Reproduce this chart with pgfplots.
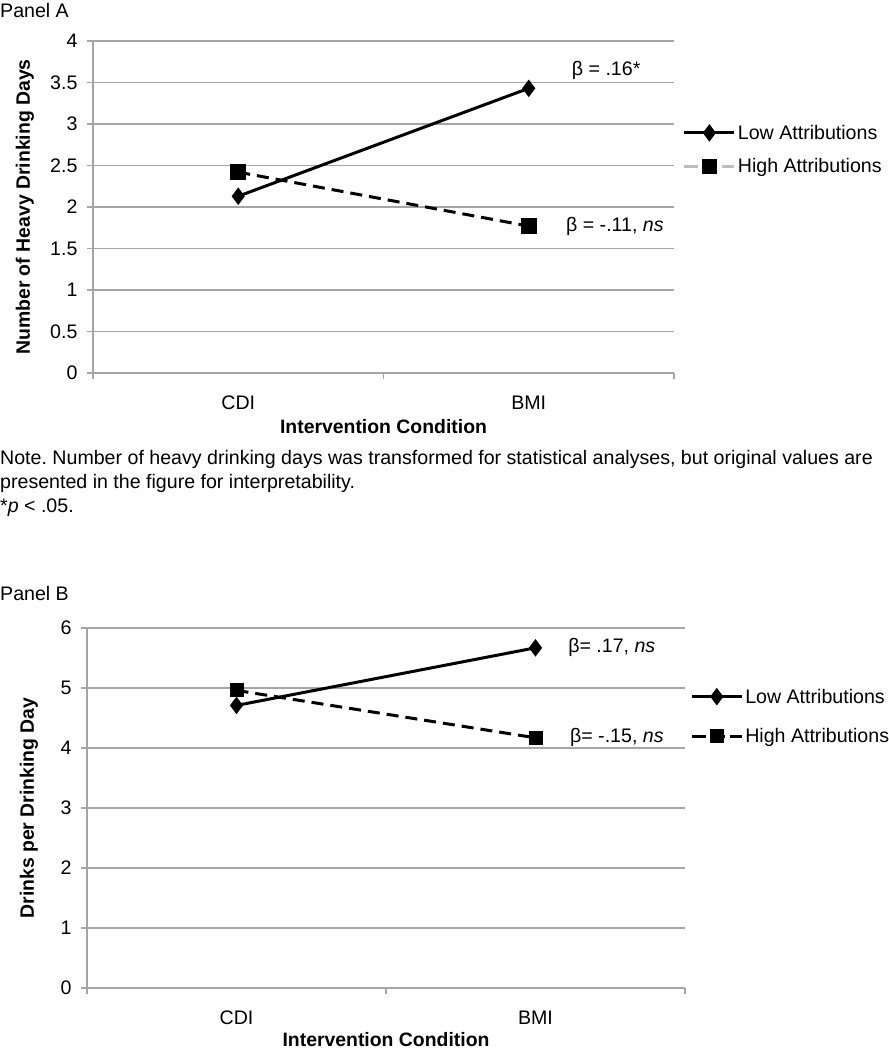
\documentclass[border=0pt]{standalone}
\usepackage{pgfplots}
\pgfplotsset{compat=1.18}
\usepackage{fontspec}
\setmainfont{Liberation Sans}
\frenchspacing
\definecolor{gridgray}{RGB}{165,165,165}
\definecolor{leggray}{RGB}{190,190,190}

\newcommand{\fs}{\fontsize{19.6}{23}\selectfont}
\newcommand{\fl}{\fontsize{19.4}{23}\selectfont\bfseries}

\pgfplotsset{
  mystyle/.style={
    scale only axis, clip=false,
    axis x line=bottom, axis y line=left,
    axis line style={-, gridgray, line width=1.4pt},
    ymajorgrids, grid style={gridgray, line width=1.4pt},
    enlargelimits=false,
    xmin=0, xmax=2,
    xtick={0.5,1.5}, xticklabels={CDI,BMI},
    major x tick style={draw=none},
    extra x ticks={0,1,2}, extra x tick labels={},
    extra x tick style={major x tick style={draw=gridgray, line width=1.4pt}, grid=none},
    tick align=outside, major tick length=6pt,
    ytick style={gridgray, line width=1.4pt},
    /pgf/number format/assume math mode=true,
    ticklabel style={font=\fs},
    yticklabel style={xshift=-6pt},
    xticklabel style={anchor=base, yshift=-30pt},
    label style={font=\fl},
    legend cell align=left,
    legend image code/.code={
      \draw[##1, mark repeat=2, mark phase=2] plot coordinates {(0pt,0pt) (25pt,0pt) (50pt,0pt)};
    },
  },
  lowline/.style={black, line width=3pt, mark=diamond*, mark size=6.3pt, mark options={solid, fill=black}},
  highline/.style={black, line width=3pt, dash pattern=on 12pt off 7pt, mark=square*, mark options={solid, fill=black}},
}

\begin{document}
\begin{tikzpicture}
\path[use as bounding box] (0pt,0pt) rectangle (889pt,-1050pt);

\node[anchor=base west, inner sep=0pt, font=\fs] at (0pt,-17pt) {Panel A};

% ---------------- Panel A
\begin{axis}[mystyle,
  at={(93pt,-373pt)}, anchor=south west,
  width=581pt, height=332pt,
  ymin=0, ymax=4, ytick={0,0.5,...,4},
  yticklabels={0,0.5,1,1.5,2,2.5,3,3.5,4},
  xlabel={Intervention Condition},
  ylabel={Number of Heavy Drinking Days},
  xlabel style={at={(axis description cs:0.5,0)}, anchor=center, yshift=-54pt},
  ylabel style={at={(axis description cs:-0.117,0.5)}, anchor=center},
  legend style={at={(axis cs:2.03,2.69)}, anchor=west, draw=none, fill=none,
    inner sep=0pt, row sep=14pt, font=\fs,
    nodes={inner sep=2pt}},
]
\addplot[lowline, forget plot] coordinates {(0.5,2.13) (1.5,3.43)};
\addplot[highline, mark size=6.5pt, forget plot] coordinates {(0.5,2.42) (1.5,1.77)};
\addlegendimage{lowline}
\addlegendentry{Low Attributions}
\addlegendimage{leggray, line width=3pt, dash pattern=on 14pt off 5pt, mark=square*, mark size=6pt, mark options={solid, black, fill=black}}
\addlegendentry{High Attributions}
\node[anchor=west, font=\fs, inner sep=0pt] at (axis cs:1.648,3.65) {β = .16*};
\node[anchor=west, font=\fs, inner sep=0pt] at (axis cs:1.628,1.77) {β = -.11, \textit{ns}};
\end{axis}

% ---------------- Note
\node[anchor=base west, inner sep=0pt, font=\fs] at (0pt,-464pt) {Note. Number of heavy drinking days was transformed for statistical analyses, but original values are};
\node[anchor=base west, inner sep=0pt, font=\fs] at (0pt,-488pt) {presented in the figure for interpretability.};
\node[anchor=base west, inner sep=0pt, font=\fs] at (0pt,-512pt) {*\textit{p} < .05.};

\node[anchor=base west, inner sep=0pt, font=\fs] at (0pt,-600pt) {Panel B};

% ---------------- Panel B
\begin{axis}[mystyle,
  at={(87pt,-988pt)}, anchor=south west,
  width=598pt, height=360pt,
  ymin=0, ymax=6, ytick={0,1,...,6},
  xlabel={Intervention Condition},
  ylabel={Drinks per Drinking Day},
  xlabel style={at={(axis description cs:0.5,0)}, anchor=center, yshift=-52pt},
  ylabel style={at={(axis description cs:-0.097,0.5)}, anchor=center},
  legend style={at={(axis cs:2.017,4.525)}, anchor=west, draw=none, fill=none,
    inner sep=0pt, row sep=20pt, font=\fs,
    nodes={inner sep=2pt}},
]
\addplot[lowline, forget plot] coordinates {(0.5,4.71) (1.5,5.67)};
\addplot[highline, mark size=5.5pt, forget plot] coordinates {(0.5,4.96) (1.5,4.17)};
\addlegendimage{lowline}
\addlegendentry{Low Attributions}
\addlegendimage{black, line width=3pt, dash pattern=on 14pt off 5pt, mark=square*, mark size=5.5pt, mark options={solid, black, fill=black}}
\addlegendentry{High Attributions}
\node[anchor=west, font=\fs, inner sep=0pt] at (axis cs:1.609,5.68) {β= .17, \textit{ns}};
\node[anchor=west, font=\fs, inner sep=0pt] at (axis cs:1.615,4.18) {β= -.15, \textit{ns}};
\end{axis}
\end{tikzpicture}
\end{document}
